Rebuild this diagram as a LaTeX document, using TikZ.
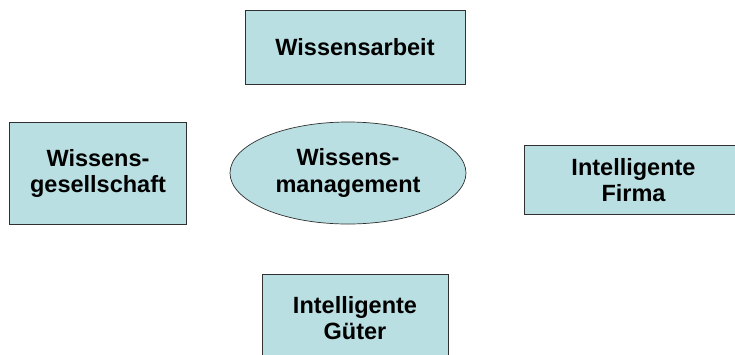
\documentclass[tikz,border=0pt]{standalone}
\usepackage{fontspec}
\setmainfont{Liberation Sans}
\usetikzlibrary{shapes.geometric}
\definecolor{boxfill}{HTML}{B9DFE2}
\definecolor{boxline}{HTML}{303030}
\tikzset{
  box/.style={draw=boxline, line width=0.9pt, fill=boxfill, align=center,
    font=\fontsize{23.5}{26.5}\selectfont\bfseries, inner sep=0pt},
  oval/.style={ellipse, draw=boxline, line width=0.7pt, fill=boxfill, align=center,
    font=\fontsize{23.5}{26.5}\selectfont\bfseries, inner sep=0pt}
}
\begin{document}
\begin{tikzpicture}[x=1pt,y=-1pt]
\useasboundingbox (0,0) rectangle (735,354);
\node[box, minimum width=220pt, minimum height=74pt] (arbeit) at (355,47) {Wissensarbeit};
\node[box, minimum width=177pt, minimum height=102pt] (gesell) at (98,173.5) {Wissens-\\gesellschaft};
\node[oval, minimum width=236pt, minimum height=102pt] (wm) at (348,173) {Wissens-\\management};
\node[box, minimum width=219pt, minimum height=69pt] (firma) at (633.5,180) {Intelligente\\Firma};
\node[box, minimum width=186pt, minimum height=88pt] (gueter) at (355,318) {Intelligente\\Güter};
\end{tikzpicture}
\end{document}
